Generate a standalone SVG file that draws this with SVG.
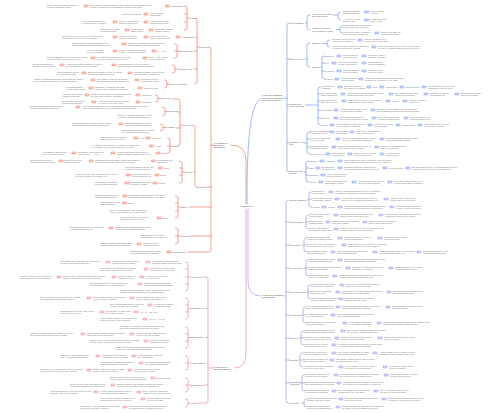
<svg xmlns="http://www.w3.org/2000/svg" width="500" height="413" viewBox="0 0 500 413">
<style>
text{font-family:"Liberation Sans",Arial,sans-serif}
.t{font-size:2.2px;fill:#707070}
.n{font-size:2.2px;fill:#505050}
.m{font-size:2.3px;fill:#404040}
.c{font-size:2.5px;fill:#404040}
.r,.b,.p,.k{fill:none;stroke-width:.7;stroke-linecap:round}
.r{stroke:#f47a68}.b{stroke:#7c9cf6}.p{stroke:#a994f2}.k{stroke:#f28c9c}
</style>
<defs>
<g id="pr"><rect x="-2.3" y="-1.1" width="4.6" height="2.2" rx="1.1" fill="#f9b3a7" stroke="#f2705d" stroke-width=".4"/><path d="M-1.3,0H1.3M.5,-.6L1.3,0 .5,.6" stroke="#fff" stroke-width=".35" fill="none"/></g>
<g id="pb"><rect x="-2.3" y="-1.1" width="4.6" height="2.2" rx="1.1" fill="#b3c6fb" stroke="#6f90f4" stroke-width=".4"/><path d="M-1.3,0H1.3M.5,-.6L1.3,0 .5,.6" stroke="#fff" stroke-width=".35" fill="none"/></g>
<g id="pp"><rect x="-2.3" y="-1.1" width="4.6" height="2.2" rx="1.1" fill="#cdbff8" stroke="#9b84ee" stroke-width=".4"/><path d="M-1.3,0H1.3M.5,-.6L1.3,0 .5,.6" stroke="#fff" stroke-width=".35" fill="none"/></g>
<g id="pk"><rect x="-2.3" y="-1.1" width="4.6" height="2.2" rx="1.1" fill="#f8bcc5" stroke="#ee7d8f" stroke-width=".4"/><path d="M-1.3,0H1.3M.5,-.6L1.3,0 .5,.6" stroke="#fff" stroke-width=".35" fill="none"/></g>
</defs>
<rect width="500" height="413" fill="#fff"/>

<g id="connectors">
<path class="r" d="M246,204V160Q246,145 231,145"/>
<path class="b" d="M247,204C247,150 249,104 260.5,99"/>
<path class="k" d="M246,209V353Q246,368 235,368"/>
<path class="p" d="M248,209V281Q248,296 260.5,296"/>
<path class="r" d="M208.5,47Q211,47 211,49V250Q211,252 208.5,252H188M207,187H211M189,207H211M190,236H211M211,145H213.5"/>
<path class="r" d="M194.5,18Q197,18 197,20V82Q197,84 194.5,84M196,37H197M194.5,51H197M194.5,69H197M197,47H198.5"/>
<path class="r" d="M184.5,6Q187,6 187,8V28Q187,30 184.5,30M184.5,14H187M184.5,22H187M187,18H189.5"/>
<path class="r" d="M174.5,44Q177,44 177,46V56Q177,58 174.5,58M174.5,51H179.5"/>
<path class="r" d="M172.5,65Q175,65 175,67V71Q175,73 172.5,73M175,69H179.5"/>
<path class="r" d="M164.5,80Q167,80 167,82V86Q167,88 164.5,88M167,84H169.5"/>
<path class="r" d="M155.5,95Q158,95 158,97V100Q158,102 155.5,102M158,98.5H160.5"/>
<path class="r" d="M162.5,107Q165,107 165,109V114Q165,116 162.5,116M165,111.5H166.5"/>
<path class="r" d="M160.5,124Q163,124 163,126V129Q163,131 160.5,131M163,127.5H165.5"/>
<path class="r" d="M167.5,138Q170,138 170,140V151Q170,153 167.5,153M167.5,146H172"/>
<path class="r" d="M172,99H177.5Q180,99 180,101V144Q180,146 177.5,146M177.5,112H180M176,128H180M180,125H182.5"/>
<path class="r" d="M179.5,161Q182,161 182,163V181Q182,183 179.5,183M179.5,168H182M179.5,175H182M182,172H184.5"/>
<path class="r" d="M191.5,125H192.5Q195,125 195,127V185Q195,187 196.5,187M194,172H195"/>
<path class="r" d="M175.5,196Q178,196 178,198V216Q178,218 175.5,218M175.5,203H178M175.5,211H178M178,207H180.5"/>
<path class="r" d="M175.5,228Q178,228 178,230V242Q178,244 175.5,244M175.5,236H180.5"/>
<path class="k" d="M185.5,262Q188,262 188,264V289Q188,291 185.5,291M185.5,269H188M185.5,277H190.5M185.5,284H188"/>
<path class="k" d="M185.5,298Q188,298 188,300V317Q188,319 185.5,319M185.5,305H188M185.5,312H188M188,308.5H190.5"/>
<path class="k" d="M185.5,327Q188,327 188,329V346Q188,348 185.5,348M185.5,334H188M185.5,341H188M188,337.5H190.5"/>
<path class="k" d="M185.5,356Q188,356 188,358V368Q188,370 185.5,370M185.5,363H190.5"/>
<path class="k" d="M185.5,378Q188,378 188,380V390Q188,392 185.5,392M185.5,385H190.5"/>
<path class="k" d="M185.5,399Q188,399 188,401V405Q188,407 185.5,407M188,403H190.5"/>
<path class="k" d="M203,277H205.5Q208,277 208,279V401Q208,403 205.5,403H198M205.5,308.5H208M205.5,337.5H208M207,363H208M204.5,385H208M208,368H213.5"/>
<path class="b" d="M289.5,23Q287,23 287,25V170Q287,172 289.5,172M287,59H289.5M287,105H289M287,143H289M284,98H287"/>
<path class="b" d="M309.5,15Q307,15 307,17V28Q307,30 309.5,30M305.5,23H307"/>
<path class="b" d="M340.5,12Q338,12 338,14V18Q338,20 340.5,20M333.5,15H338"/>
<path class="b" d="M342.5,26Q340,26 340,28V31Q340,33 342.5,33M336.5,29.5H340"/>
<path class="b" d="M309.5,43Q307,43 307,45V65Q307,67 309.5,67M305,59H307"/>
<path class="b" d="M329.5,40Q327,40 327,42V45Q327,47 329.5,47M322.5,43.5H327"/>
<path class="b" d="M324.5,56Q322,56 322,58V77Q322,79 324.5,79M322,63H324.5M322,71H324.5M320.5,67H322"/>
<path class="b" d="M320.5,87Q318,87 318,89V123Q318,125 320.5,125M318,94H320.5M318,101H320.5M318,110H320.5M318,118H320.5M305.5,105H318"/>
<path class="b" d="M309.5,132Q307,132 307,134V152Q307,154 309.5,154M307,139H309.5M307,147H309.5M303.5,143H307"/>
<path class="b" d="M308.5,161Q306,161 306,163V180Q306,182 308.5,182M306,168H308.5M306,175H308.5M304.5,172H306"/>
<path class="p" d="M288.5,200Q286,200 286,202V401Q286,403 288.5,403M286,222H289.5M286,245H289.5M286,268H289.5M286,292H289.5M286,315H289.5M286,338H289.5M286,360H289.5M286,383H289.5M284.5,296H286"/>
<path class="p" d="M311.5,192Q309,192 309,194V205Q309,207 311.5,207M309,199H311.5M307.5,200H309"/>
<path class="p" d="M308.5,215Q306,215 306,217V227Q306,229 308.5,229M305,222H308.5"/>
<path class="p" d="M306.5,238Q304,238 304,240V250Q304,252 306.5,252M302.5,245H306.5"/>
<path class="p" d="M308.5,260Q306,260 306,262V274Q306,276 308.5,276M304.5,268H308.5"/>
<path class="p" d="M310.5,285Q308,285 308,287V297Q308,299 310.5,299M307,292H310.5"/>
<path class="p" d="M305.5,307Q303,307 303,309V321Q303,323 305.5,323M302,315H305.5"/>
<path class="p" d="M303.5,331Q301,331 301,333V343Q301,345 303.5,345M299.5,338H303.5"/>
<path class="p" d="M302.5,353Q300,353 300,355V365Q300,367 302.5,367M298.5,360H302.5"/>
<path class="p" d="M304.5,375Q302,375 302,377V389Q302,391 304.5,391M300.5,383H304.5"/>
<path class="p" d="M306.5,399Q304,399 304,401V405Q304,407 306.5,407M301.5,403H304"/>
</g>

<g id="center"><text class="c" x="247" y="207" text-anchor="middle">Lesson 1-5</text></g>
<g id="l1-a"><text class="m" x="214" y="143.6">1. Transfer of<tspan x="214" dy="2.4">Electrical</tspan><tspan x="214" dy="2.4">Conditions</tspan></text></g>
<g id="l1-b"><text class="m" x="262" y="96.4">1. Energy Transfers<tspan x="262" dy="2.4">from Power Stations</tspan><tspan x="262" dy="2.4">and Stored Energy</tspan></text></g>
<g id="l1-c"><text class="m" x="214" y="367.7">2. Sources of<tspan x="214" dy="2.4">Electrical Energy</tspan></text></g>
<g id="l1-d"><text class="m" x="262" y="295.7">2. Sources of Energy<tspan x="262" dy="2.4">for Electricity</tspan></text></g>

<g id="a-nodes">
<text class="n" x="199" y="47.8">Overview</text>
<text class="n" x="190" y="18.8">Types</text>
<text class="n" x="171" y="6.8">Renewables</text>
<text class="n" x="182" y="37.8">Heat transfer</text>
<text class="n" x="180" y="51.8">Electric power</text>
<text class="n" x="180" y="69.8">Using energy</text>
<text class="n" x="170" y="84.8">Uses of electricity</text>
<text class="n" x="161" y="99.3">Heat flow</text>
<text class="n" x="167" y="112.3">Resources</text>
<text class="n" x="166" y="128.3">Symbols</text>
<text class="n" x="172.5" y="146.8">Units</text>
<text class="n" x="183" y="125.8">Current</text>
<text class="n" x="185" y="172.8">Circuits</text>
<text class="n" x="197" y="187.8">Electricity</text>
<text class="n" x="181" y="207.8">Safety</text>
<text class="n" x="181" y="236.8">Devices</text>
<text class="n" x="172.5" y="252.8">Practical work</text>
</g>

<g id="a-rows">
<g id="a1"><text class="t" x="47" y="5.7">Some energy resources can be<tspan x="47" dy="2.4">replaced as fast as used</tspan></text><use href="#pr" x="86" y="6"/><text class="t" x="90" y="5.7">Renewable resources include wind, waves, tides, sunlight, hydro<tspan x="90" dy="2.4">and they will not run out during the lifetime of the Sun</tspan></text><use href="#pr" x="167.5" y="6"/></g>
<g id="a2"><text class="t" x="122" y="14.8">Biofuels from plants</text><use href="#pr" x="146" y="14"/><text class="t" x="150" y="13.7">Wood, ethanol<tspan x="150" dy="2.4">and biogas</tspan></text></g>
<g id="a3"><text class="t" x="82" y="21.7">Finite resources will run<tspan x="82" dy="2.4">out and can't be replaced</tspan></text><use href="#pr" x="115" y="22"/><text class="t" x="119" y="21.7">Coal, oil and natural<tspan x="119" dy="2.4">gas are fossil fuels</tspan></text><use href="#pr" x="146" y="22"/><text class="t" x="150" y="21.7">Fossil fuels release<tspan x="150" dy="2.4">carbon dioxide gas</tspan></text></g>
<g id="a4"><text class="t" x="100" y="29.7">Nuclear fuel is made<tspan x="100" dy="2.4">of uranium metal</tspan></text><use href="#pr" x="127" y="30"/><text class="t" x="131" y="29.7">Fission gives<tspan x="131" dy="2.4">large energy</tspan></text><use href="#pr" x="151" y="30"/><text class="t" x="155" y="29.7">Radioactive waste<tspan x="155" dy="2.4">must be stored</tspan></text></g>
<g id="a5"><text class="t" x="62" y="36.7">Thermal energy stores are filled when fuel<tspan x="62" dy="2.4">burns in the boiler of a power station</tspan></text><use href="#pr" x="115" y="37"/><text class="t" x="119" y="36.7">Water is heated to<tspan x="119" dy="2.4">produce hot steam</tspan></text><use href="#pr" x="146" y="37"/><text class="t" x="150" y="36.7">Steam drives the<tspan x="150" dy="2.4">turbine blades round</tspan></text><use href="#pr" x="178" y="37"/></g>
<g id="a6"><text class="t" x="72" y="43.7">Some energy is always wasted to the<tspan x="72" dy="2.4">surroundings as heat and sound energy</tspan></text><use href="#pr" x="124" y="44"/><text class="t" x="128" y="43.7">Efficiency compares the useful energy<tspan x="128" dy="2.4">output with the total energy input</tspan></text></g>
<g id="a7"><text class="t" x="87" y="50.7">Power is the rate<tspan x="87" dy="2.4">of energy transfer</tspan></text><use href="#pr" x="115" y="51"/><text class="t" x="119" y="50.7">Power is measured in watts<tspan x="119" dy="2.4">1 watt = 1 joule per second</tspan></text><use href="#pr" x="154" y="51"/><text class="t" x="158" y="51.8">P = E / t</text></g>
<g id="a8"><text class="t" x="47" y="57.7">Energy transferred depends on the power<tspan x="47" dy="2.4">of an appliance and the time it is on</tspan></text><use href="#pr" x="93" y="58"/><text class="t" x="97" y="57.7">Kilowatt hours measure the energy<tspan x="97" dy="2.4">used by appliances in the home</tspan></text><use href="#pr" x="145" y="58"/><text class="t" x="149" y="57.7">Cost = units x price<tspan x="149" dy="2.4">per kilowatt hour</tspan></text></g>
<g id="a9"><text class="t" x="33" y="64.7">Electrical appliances<tspan x="33" dy="2.4">transfer energy usefully</tspan></text><use href="#pr" x="62" y="65"/><text class="t" x="66" y="64.7">Kettles and heaters transfer energy to<tspan x="66" dy="2.4">the thermal energy store of water</tspan></text><use href="#pr" x="114" y="65"/><text class="t" x="118" y="64.7">Motors transfer energy to kinetic<tspan x="118" dy="2.4">stores in fans and washing machines</tspan></text></g>
<g id="a10"><text class="t" x="57" y="72.7">Lamps transfer energy<tspan x="57" dy="2.4">by light and heating</tspan></text><use href="#pr" x="84" y="73"/><text class="t" x="88" y="72.7">Speakers transfer energy by sound<tspan x="88" dy="2.4">waves travelling through air</tspan></text><use href="#pr" x="130" y="73"/><text class="t" x="134" y="72.7">Chargers transfer energy to the<tspan x="134" dy="2.4">chemical store of batteries</tspan></text></g>
<g id="a11"><text class="t" x="33" y="79.7">A Sankey diagram shows the useful and the wasted<tspan x="33" dy="2.4">energy transfers as arrows of different widths</tspan></text><use href="#pr" x="93" y="80"/><text class="t" x="97" y="79.7">The width of each arrow shows<tspan x="97" dy="2.4">the amount of energy transferred</tspan></text><use href="#pr" x="137" y="80"/><text class="t" x="141" y="79.7">Total input energy<tspan x="141" dy="2.4">equals total output</tspan></text></g>
<g id="a12"><text class="t" x="66" y="87.7">Reducing wasted<tspan x="66" dy="2.4">energy saves money</tspan></text><use href="#pr" x="91" y="88"/><text class="t" x="95" y="87.7">Insulation, lubrication and LED<tspan x="95" dy="2.4">lamps reduce unwanted transfers</tspan></text><use href="#pr" x="140" y="88"/><text class="t" x="144" y="88.8">Saving energy</text></g>
<g id="a13"><text class="t" x="63" y="94.7">Thermal conductors<tspan x="63" dy="2.4">transfer heat fast</tspan></text><use href="#pr" x="87" y="95"/><text class="t" x="91" y="94.7">Metals are good thermal conductors while<tspan x="91" dy="2.4">air, wool and foam are insulators</tspan></text><use href="#pr" x="138" y="95"/><text class="t" x="142" y="95.8">Insulators</text></g>
<g id="a14"><text class="t" x="62" y="101.7">Conduction, convection<tspan x="62" dy="2.4">and thermal radiation</tspan></text><use href="#pr" x="94" y="102"/><text class="t" x="98" y="101.7">Heat moves from a hotter object<tspan x="98" dy="2.4">to a cooler one until equal</tspan></text><use href="#pr" x="138" y="102"/><text class="t" x="142" y="102.8">Radiation</text></g>
<g id="a15"><text class="t" x="30" y="106.7">Electric current is a flow of charge<tspan x="30" dy="2.4">around a complete circuit loop</tspan></text><use href="#pr" x="78" y="107"/><text class="t" x="83" y="106.7">Current is measured in amperes using an ammeter placed in series<tspan x="83" dy="2.4">and it is the same at every point around a series circuit</tspan></text></g>
<g id="a16"><text class="t" x="118" y="115.7">Energy resources are used to make<tspan x="118" dy="2.4">electricity in large power stations</tspan></text></g>
<g id="a17"><text class="t" x="72" y="123.7">Components are joined by wires to make<tspan x="72" dy="2.4">circuits that can be drawn as diagrams</tspan></text><use href="#pr" x="121" y="124"/><text class="t" x="125" y="123.7">Circuit symbols are used to<tspan x="125" dy="2.4">draw clear circuit diagrams</tspan></text></g>
<g id="a18"><text class="t" x="122" y="130.7">Switches open and close a circuit<tspan x="122" dy="2.4">to control the flow of current</tspan></text></g>
<g id="a19"><text class="t" x="100" y="137.7">Potential difference pushes<tspan x="100" dy="2.4">charge around the circuit</tspan></text><use href="#pr" x="136" y="138"/><text class="t" x="139.5" y="138.8">Volts</text><use href="#pr" x="148" y="138"/><text class="t" x="151.5" y="138.8">Voltmeter</text></g>
<g id="a20"><text class="t" x="92" y="145.7">A voltmeter is connected in parallel across a part<tspan x="92" dy="2.4">to measure the potential difference in volts</tspan></text><use href="#pr" x="151.5" y="146"/><text class="t" x="155.5" y="146.8">Amps</text></g>
<g id="a21"><text class="t" x="43" y="152.7">Resistance opposes the<tspan x="43" dy="2.4">flow of electric current</tspan></text><use href="#pr" x="74" y="153"/><text class="t" x="78" y="152.7">Resistance is measured in<tspan x="78" dy="2.4">ohms using V = I x R</tspan></text><use href="#pr" x="113" y="153"/><text class="t" x="117" y="152.7">Longer and thinner wires have a<tspan x="117" dy="2.4">higher resistance than short ones</tspan></text><use href="#pr" x="158" y="153"/><text class="t" x="161" y="153.8">Ohms</text></g>
<g id="a22"><text class="t" x="30" y="160.7">Conductors let current<tspan x="30" dy="2.4">pass through them easily</tspan></text><use href="#pr" x="61" y="161"/><text class="t" x="64" y="160.7">Copper, silver and<tspan x="64" dy="2.4">graphite conduct</tspan></text><use href="#pr" x="91" y="161"/><text class="t" x="95" y="160.7">Insulators such as plastic, rubber and glass do<tspan x="95" dy="2.4">not let current pass, so they keep us safe</tspan></text><use href="#pr" x="153.5" y="161"/><text class="t" x="157" y="160.7">Conductors and<tspan x="157" dy="2.4">insulators</tspan></text></g>
<g id="a23"><text class="t" x="125" y="167.7">Cells and batteries supply the<tspan x="125" dy="2.4">energy to push the current</tspan></text><use href="#pr" x="160.5" y="168"/><text class="t" x="164" y="168.8">Cells</text></g>
<g id="a24"><text class="t" x="75" y="174.7">In a series circuit the components are joined<tspan x="75" dy="2.4">one after another in a single loop</tspan></text><use href="#pr" x="128.5" y="175"/><text class="t" x="132" y="174.7">If one lamp breaks<tspan x="132" dy="2.4">all the lamps go out</tspan></text><use href="#pr" x="157" y="175"/><text class="t" x="160" y="175.8">Series</text></g>
<g id="a25"><text class="t" x="95" y="182.7">In a parallel circuit there<tspan x="95" dy="2.4">are separate branches</tspan></text><use href="#pr" x="127" y="183"/><text class="t" x="130" y="182.7">Each branch gets the<tspan x="130" dy="2.4">full supply voltage</tspan></text><use href="#pr" x="155" y="183"/><text class="t" x="158" y="183.8">Parallel</text></g>
<g id="a26"><text class="t" x="95" y="195.7">Safety in the home with<tspan x="95" dy="2.4">mains electricity supply</tspan></text><use href="#pr" x="125" y="196"/><text class="t" x="128.5" y="195.7">Plugs have a fuse and an earth wire to<tspan x="128.5" dy="2.4">stop appliances becoming live if faulty</tspan></text></g>
<g id="a27"><text class="t" x="100" y="202.7">Never touch sockets<tspan x="100" dy="2.4">with wet hands</tspan></text><use href="#pr" x="124.5" y="203"/><text class="t" x="128" y="203.8">Water</text></g>
<g id="a28"><text class="t" x="110" y="210.7">The live wire is brown, the neutral wire<tspan x="110" dy="2.4">is blue and earth is green and yellow</tspan></text></g>
<g id="a29"><text class="t" x="120" y="217.7">Fuses melt if the current is too<tspan x="120" dy="2.4">high and break the circuit</tspan></text><use href="#pr" x="159" y="218"/><text class="t" x="162" y="218.8">Fuses</text></g>
<g id="a30"><text class="t" x="70" y="227.7">Electrical energy can be dangerous<tspan x="70" dy="2.4">if it is not used correctly</tspan></text><use href="#pr" x="111" y="228"/><text class="t" x="115" y="227.7">Circuit breakers switch off the supply<tspan x="115" dy="2.4">quickly when a fault is detected</tspan></text></g>
<g id="a31"><text class="t" x="140" y="235.7">Residual current devices<tspan x="140" dy="2.4">protect people from shocks</tspan></text></g>
<g id="a32"><text class="t" x="100" y="243.7">Double insulated appliances have<tspan x="100" dy="2.4">a plastic case and no earth wire</tspan></text><use href="#pr" x="139" y="244"/><text class="t" x="143" y="243.7">Hair dryers and<tspan x="143" dy="2.4">vacuum cleaners</tspan></text></g>
<g id="a33"><text class="t" x="130" y="251.7">Practical investigations measure<tspan x="130" dy="2.4">current and voltage in circuits</tspan></text><use href="#pr" x="169" y="252"/></g>
</g>

<g id="c-nodes">
<text class="n" x="191" y="277.8">Generators</text>
<text class="n" x="191" y="309.3">Transformers</text>
<text class="n" x="191" y="338.3">National grid</text>
<text class="n" x="191" y="363.8">Power stations</text>
<text class="n" x="191" y="385.8">Environment</text>
<text class="n" x="191" y="403.8">Costs</text>
</g>
<g id="c-rows">
<g id="c1"><text class="t" x="60" y="261.7">Generators use magnets and coils of wire<tspan x="60" dy="2.4">to induce a potential difference</tspan></text><use href="#pk" x="108" y="262"/><text class="t" x="112" y="261.7">Turning the coil faster gives<tspan x="112" dy="2.4">a larger induced voltage</tspan></text><use href="#pk" x="148" y="262"/><text class="t" x="152" y="261.7">Alternating current changes<tspan x="152" dy="2.4">direction many times a second</tspan></text></g>
<g id="c2"><text class="t" x="100" y="268.7">The national grid transmits electricity<tspan x="100" dy="2.4">from power stations to our homes</tspan></text><use href="#pk" x="146" y="269"/><text class="t" x="150" y="268.7">Mains supply is 230 volts<tspan x="150" dy="2.4">at a frequency of 50 hertz</tspan></text></g>
<g id="c3"><text class="t" x="20" y="276.7">Energy resources can be used to<tspan x="20" dy="2.4">drive turbines in power stations</tspan></text><use href="#pk" x="59" y="277"/><text class="t" x="63" y="276.7">Steam, wind or moving water turns a turbine<tspan x="63" dy="2.4">which is connected to a large generator</tspan></text><use href="#pk" x="114" y="277"/><text class="t" x="118" y="276.7">The generator coil<tspan x="118" dy="2.4">rotates in a field</tspan></text><use href="#pk" x="142" y="277"/><text class="t" x="146" y="276.7">A current is induced in<tspan x="146" dy="2.4">the coil of wire</tspan></text></g>
<g id="c4"><text class="t" x="90" y="283.7">Direct current flows in one direction only<tspan x="90" dy="2.4">and is supplied by cells and batteries</tspan></text><use href="#pk" x="140" y="284"/><text class="t" x="144" y="283.7">Oscilloscope traces show ac<tspan x="144" dy="2.4">and dc as different waveforms</tspan></text></g>
<g id="c5"><text class="t" x="120" y="290.7">Electricity is a secondary energy source made from<tspan x="120" dy="2.4">primary resources such as coal, gas and wind</tspan></text></g>
<g id="c6"><text class="t" x="40" y="297.7">Step-up transformers increase the voltage<tspan x="40" dy="2.4">for transmission through the cables</tspan></text><use href="#pk" x="89" y="298"/><text class="t" x="93" y="297.7">High voltage means a low current<tspan x="93" dy="2.4">so less energy is wasted</tspan></text><use href="#pk" x="132" y="298"/><text class="t" x="136" y="297.7">Less heating of the cables and<tspan x="136" dy="2.4">a more efficient grid system</tspan></text></g>
<g id="c7"><text class="t" x="110" y="304.7">Step-down transformers reduce the<tspan x="110" dy="2.4">voltage for safe use in homes</tspan></text><use href="#pk" x="150" y="305"/><text class="t" x="154" y="304.7">Pylons carry cables<tspan x="154" dy="2.4">across the country</tspan></text></g>
<g id="c8"><text class="t" x="60" y="311.7">Transformers have two coils of wire<tspan x="60" dy="2.4">wound on an iron core</tspan></text><use href="#pk" x="102" y="312"/><text class="t" x="106" y="311.7">The number of turns sets<tspan x="106" dy="2.4">the output voltage</tspan></text><use href="#pk" x="136" y="312"/><text class="t" x="140" y="312.8">Vp / Vs = Np / Ns</text></g>
<g id="c9"><text class="t" x="100" y="318.7">Power in the primary coil equals power<tspan x="100" dy="2.4">in the secondary coil if efficient</tspan></text><use href="#pk" x="145" y="319"/><text class="t" x="149" y="319.8">Vp x Ip = Vs x Is</text></g>
<g id="c10"><text class="t" x="120" y="326.7">Demand for electricity changes during the day<tspan x="120" dy="2.4">and power stations must respond quickly</tspan></text></g>
<g id="c11"><text class="t" x="30" y="333.7">Gas power stations can be started quickly to<tspan x="30" dy="2.4">meet sudden increases in the demand</tspan></text><use href="#pk" x="83" y="334"/><text class="t" x="87" y="333.7">Nuclear power stations supply a steady<tspan x="87" dy="2.4">base load all day and night</tspan></text><use href="#pk" x="132" y="334"/><text class="t" x="136" y="333.7">Pumped storage stations store<tspan x="136" dy="2.4">energy for peak demand</tspan></text></g>
<g id="c12"><text class="t" x="90" y="340.7">Engineers predict demand using weather forecasts<tspan x="90" dy="2.4">and the times of popular television events</tspan></text><use href="#pk" x="146" y="341"/><text class="t" x="150" y="340.7">Supply must always<tspan x="150" dy="2.4">match the demand</tspan></text></g>
<g id="c13"><text class="t" x="115" y="347.7">Smart meters help homes and businesses track the<tspan x="115" dy="2.4">energy they use and reduce their bills</tspan></text></g>
<g id="c14"><text class="t" x="60" y="355.7">Fossil fuel power stations burn<tspan x="60" dy="2.4">coal, oil or gas to heat water</tspan></text><use href="#pk" x="98" y="356"/><text class="t" x="102" y="355.7">The steam turns a turbine<tspan x="102" dy="2.4">connected to the generator</tspan></text><use href="#pk" x="134" y="356"/><text class="t" x="138" y="355.7">Cooling towers condense<tspan x="138" dy="2.4">the used steam</tspan></text></g>
<g id="c15"><text class="t" x="100" y="362.7">Nuclear power stations use fission<tspan x="100" dy="2.4">to heat the water in a reactor</tspan></text><use href="#pk" x="141" y="363"/><text class="t" x="145" y="362.7">No carbon dioxide is made<tspan x="145" dy="2.4">but waste is radioactive</tspan></text></g>
<g id="c16"><text class="t" x="40" y="369.7">Combined cycle gas turbines are much more<tspan x="40" dy="2.4">efficient than older coal power stations</tspan></text><use href="#pk" x="89" y="370"/><text class="t" x="93" y="369.7">Waste heat can be used to warm<tspan x="93" dy="2.4">nearby homes and offices</tspan></text><use href="#pk" x="130" y="370"/><text class="t" x="134" y="369.7">Combined heat and power<tspan x="134" dy="2.4">schemes save energy</tspan></text></g>
<g id="c17"><text class="t" x="110" y="377.7">Burning fossil fuels releases carbon<tspan x="110" dy="2.4">dioxide which causes global warming</tspan></text><use href="#pk" x="153" y="378"/><text class="t" x="156" y="378.8">Climate change</text></g>
<g id="c18"><text class="t" x="70" y="384.7">Sulfur dioxide from coal causes acid<tspan x="70" dy="2.4">rain which damages trees and lakes</tspan></text><use href="#pk" x="113" y="385"/><text class="t" x="117" y="384.7">Carbon capture and storage can trap the gases<tspan x="117" dy="2.4">produced before they reach the atmosphere</tspan></text></g>
<g id="c19"><text class="t" x="50" y="391.7">Wind farms can be noisy and some people<tspan x="50" dy="2.4">think they spoil the landscape</tspan></text><use href="#pk" x="96" y="392"/><text class="t" x="100" y="391.7">Hydroelectric dams flood valleys<tspan x="100" dy="2.4">and destroy natural habitats</tspan></text><use href="#pk" x="139" y="392"/><text class="t" x="143" y="391.7">Every resource has some<tspan x="143" dy="2.4">impact on the environment</tspan></text></g>
<g id="c20"><text class="t" x="100" y="398.7">Set up costs, running costs and fuel<tspan x="100" dy="2.4">costs all affect the price of power</tspan></text><use href="#pk" x="143" y="399"/><text class="t" x="147" y="398.7">Decommissioning costs<tspan x="147" dy="2.4">can be very high</tspan></text></g>
<g id="c21"><text class="t" x="80" y="406.7">Renewable resources have no fuel costs<tspan x="80" dy="2.4">but can be unreliable at times</tspan></text><use href="#pk" x="125" y="407"/><text class="t" x="129" y="406.7">Wind and solar depend on the weather<tspan x="129" dy="2.4">so backup power is always needed</tspan></text></g>
</g>

<g id="b-nodes">
<text class="n" x="290" y="23.8">Fuel transfers</text>
<text class="n" x="312" y="14.7">Main energy sources<tspan x="312" dy="2.4">since the 1800s</tspan></text>
<text class="n" x="312" y="29.2">Fossil fuels formed<tspan x="312" dy="2.4">over millions of years</tspan></text>
<text class="n" x="290" y="59.8">Stored energy</text>
<text class="n" x="312" y="44.3">Batteries</text>
<text class="n" x="312" y="67.8">Storage</text>
<text class="n" x="289.5" y="104.7">Transfers at<tspan x="289.5" dy="2.4">Power Stations</tspan></text>
<text class="n" x="289.5" y="142.7">Changes over<tspan x="289.5" dy="2.4">time</tspan></text>
<text class="n" x="289.5" y="171.7">Transport and<tspan x="289.5" dy="2.4">storage</tspan></text>
</g>
<g id="b-rows">
<g id="b1"><text class="t" x="343" y="11.7">Earth's crust has<tspan x="343" dy="2.4">fossil fuel stores</tspan></text><use href="#pb" x="366.5" y="12"/><text class="t" x="370" y="11.7">Coal beds and<tspan x="370" dy="2.4">oil wells</tspan></text></g>
<g id="b2"><text class="t" x="343" y="19.7">All energy comes<tspan x="343" dy="2.4">from the Sun</tspan></text><use href="#pb" x="366.5" y="20"/><text class="t" x="370" y="19.7">Plants stored the<tspan x="370" dy="2.4">Sun's energy</tspan></text></g>
<g id="b3"><text class="t" x="343" y="25.7">Dead plants and animals were<tspan x="343" dy="2.4">buried under layers of mud</tspan></text></g>
<g id="b4"><text class="t" x="343" y="32.7">Heat and pressure changed<tspan x="343" dy="2.4">them into coal, oil and gas</tspan></text><use href="#pb" x="377" y="33"/><text class="t" x="381" y="32.7">These fuels take too<tspan x="381" dy="2.4">long to form again</tspan></text></g>
<g id="b5"><text class="t" x="332" y="39.7">Chemical energy stores<tspan x="332" dy="2.4">in cells are recharged</tspan></text><use href="#pb" x="360" y="40"/><text class="t" x="364" y="39.7">Lithium ion batteries in<tspan x="364" dy="2.4">phones and electric cars</tspan></text></g>
<g id="b6"><text class="t" x="332" y="46.7">Hydrogen can be produced with spare<tspan x="332" dy="2.4">electricity and stored in tanks</tspan></text><use href="#pb" x="374" y="47"/><text class="t" x="378" y="46.7">Stored hydrogen can be used in fuel cells to<tspan x="378" dy="2.4">produce electricity again when it is needed</tspan></text></g>
<g id="b7"><text class="t" x="325" y="56.8">Batteries</text><use href="#pb" x="339" y="56"/><text class="t" x="343" y="55.7">Most storage is<tspan x="343" dy="2.4">short term only</tspan></text><use href="#pb" x="364" y="56"/><text class="t" x="368" y="55.7">Grid scale battery<tspan x="368" dy="2.4">farms are growing</tspan></text></g>
<g id="b8"><text class="t" x="325" y="63.8">Fuel</text><use href="#pb" x="334" y="63"/><text class="t" x="338" y="62.7">Fuel stores chemical<tspan x="338" dy="2.4">energy until burned</tspan></text><use href="#pb" x="364" y="63"/><text class="t" x="368" y="62.7">Coal stockpiles<tspan x="368" dy="2.4">at power stations</tspan></text></g>
<g id="b9"><text class="t" x="325" y="71.8">Hydrogen</text><use href="#pb" x="339" y="71"/><text class="t" x="343" y="70.7">Made by passing<tspan x="343" dy="2.4">current in water</tspan></text><use href="#pb" x="364" y="71"/><text class="t" x="368" y="70.7">Hydrogen cars<tspan x="368" dy="2.4">emit only water</tspan></text></g>
<g id="b10"><text class="t" x="325" y="79.8">Pumped</text><use href="#pb" x="337" y="79"/><text class="t" x="341" y="78.7">Water is pumped<tspan x="341" dy="2.4">uphill at night</tspan></text><use href="#pb" x="361" y="79"/><text class="t" x="365" y="78.7">Water is released through turbines when<tspan x="365" dy="2.4">demand for electricity is very high</tspan></text></g>
<g id="b11"><text class="t" x="321" y="86.7">Conditions for<tspan x="321" dy="2.4">electricity</tspan></text><use href="#pb" x="340" y="87"/><text class="t" x="344" y="86.7">Electricity must be<tspan x="344" dy="2.4">generated on demand</tspan></text><use href="#pb" x="369" y="87"/><text class="t" x="373" y="87.8">Coal</text><use href="#pb" x="382" y="87"/><text class="t" x="386" y="87.8">Gas turbine</text><use href="#pb" x="402" y="87"/><text class="t" x="406" y="87.8">Steam turbine</text><use href="#pb" x="424" y="87"/><text class="t" x="428" y="86.7">The generator produces an<tspan x="428" dy="2.4">alternating current output</tspan></text></g>
<g id="b12"><text class="t" x="321" y="93.7">The boiler heats<tspan x="321" dy="2.4">water into steam</tspan></text><use href="#pb" x="343" y="94"/><text class="t" x="347" y="93.7">High pressure steam turns the turbine<tspan x="347" dy="2.4">blades which spin the shaft</tspan></text><use href="#pb" x="391" y="94"/><text class="t" x="395" y="93.7">The shaft turns the coils<tspan x="395" dy="2.4">inside the generator</tspan></text><use href="#pb" x="426" y="94"/><text class="t" x="430" y="93.7">Electricity flows out<tspan x="430" dy="2.4">to transformers</tspan></text><use href="#pb" x="457" y="94"/><text class="t" x="461" y="93.7">Steam is condensed<tspan x="461" dy="2.4">and reused again</tspan></text></g>
<g id="b13"><text class="t" x="321" y="100.7">Cooling water is<tspan x="321" dy="2.4">taken from rivers</tspan></text><use href="#pb" x="344" y="101"/><text class="t" x="348" y="100.7">Warm water returned to rivers can<tspan x="348" dy="2.4">harm fish and other wildlife</tspan></text><use href="#pb" x="388" y="101"/><text class="t" x="392" y="101.8">Wildlife</text><use href="#pb" x="405" y="101"/><text class="t" x="409" y="100.7">Thermal pollution<tspan x="409" dy="2.4">of the river</tspan></text></g>
<g id="b14"><text class="t" x="321" y="110.8">Generators</text><use href="#pb" x="336" y="110"/><text class="t" x="340" y="109.7">A magnet spins inside coils<tspan x="340" dy="2.4">of copper wire to make</tspan></text><use href="#pb" x="373" y="110"/><text class="t" x="377" y="109.7">Because of the rotation, the current in the<tspan x="377" dy="2.4">wires changes direction fifty times a second</tspan></text></g>
<g id="b15"><text class="t" x="321" y="118.8">Efficiency</text><use href="#pb" x="336" y="118"/><text class="t" x="340" y="117.7">Only about a third of the<tspan x="340" dy="2.4">fuel energy becomes electric</tspan></text><use href="#pb" x="374" y="118"/><text class="t" x="378" y="117.7">The rest is wasted as<tspan x="378" dy="2.4">heat in cooling towers</tspan></text><use href="#pb" x="406" y="118"/><text class="t" x="410" y="117.7">Improve efficiency by<tspan x="410" dy="2.4">using the waste heat</tspan></text></g>
<g id="b16"><text class="t" x="321" y="125.8">Output</text><use href="#pb" x="332" y="125"/><text class="t" x="336" y="124.7">Power stations output around<tspan x="336" dy="2.4">one thousand megawatts</tspan></text><use href="#pb" x="370" y="125"/><text class="t" x="374" y="124.7">Output is measured<tspan x="374" dy="2.4">in megawatts</tspan></text><use href="#pb" x="398" y="125"/><text class="t" x="402" y="125.8">Higher output</text><use href="#pb" x="420" y="125"/><text class="t" x="424" y="124.7">Many stations are needed<tspan x="424" dy="2.4">for the whole country</tspan></text></g>
<g id="b17"><text class="t" x="310" y="131.7">Energy demand has<tspan x="310" dy="2.4">grown since 1900</tspan></text><use href="#pb" x="332" y="132"/><text class="t" x="336" y="131.7">More homes<tspan x="336" dy="2.4">and devices</tspan></text><use href="#pb" x="352" y="132"/><text class="t" x="356" y="131.7">Add more power stations<tspan x="356" dy="2.4">to the national grid</tspan></text></g>
<g id="b18"><text class="t" x="310" y="138.7">Use of coal has fallen<tspan x="310" dy="2.4">in recent years</tspan></text><use href="#pb" x="338" y="139"/><text class="t" x="342" y="138.7">Old coal power stations are being<tspan x="342" dy="2.4">closed to cut carbon emissions</tspan></text><use href="#pb" x="382" y="139"/><text class="t" x="386" y="138.7">Replaced by gas, wind and solar<tspan x="386" dy="2.4">power across the country</tspan></text></g>
<g id="b19"><text class="t" x="310" y="146.7">Wind and solar use<tspan x="310" dy="2.4">has grown quickly</tspan></text><use href="#pb" x="334" y="147"/><text class="t" x="338" y="146.7">Offshore wind farms now supply a<tspan x="338" dy="2.4">large share of the electricity</tspan></text><use href="#pb" x="377" y="147"/><text class="t" x="381" y="146.7">Costs of renewables have<tspan x="381" dy="2.4">fallen a great deal</tspan></text></g>
<g id="b20"><text class="t" x="310" y="154.8">New resources</text><use href="#pb" x="328" y="154"/><text class="t" x="332" y="153.7">Tidal lagoons<tspan x="332" dy="2.4">are planned</tspan></text><use href="#pb" x="350" y="154"/><text class="t" x="354" y="153.7">Small nuclear reactors<tspan x="354" dy="2.4">may be built soon</tspan></text><use href="#pb" x="382" y="154"/><text class="t" x="386" y="153.7">Research into<tspan x="386" dy="2.4">fusion power</tspan></text></g>
<g id="b21"><text class="t" x="309" y="161.8">Railways</text><use href="#pb" x="322" y="161"/><text class="t" x="326" y="161.8">High time</text><use href="#pb" x="340" y="161"/><text class="t" x="344" y="160.7">Many trains now run on electricity from overhead<tspan x="344" dy="2.4">cables instead of burning diesel fuel in engines</tspan></text></g>
<g id="b22"><text class="t" x="309" y="168.8">Cars</text><use href="#pb" x="318" y="168"/><text class="t" x="322" y="167.7">Electric cars<tspan x="322" dy="2.4">use batteries</tspan></text><use href="#pb" x="340" y="168"/><text class="t" x="344" y="167.7">Charging points are being built in<tspan x="344" dy="2.4">car parks and at motorway services</tspan></text><use href="#pb" x="385" y="168"/><text class="t" x="389" y="168.8">Pros and cons</text><use href="#pb" x="408" y="168"/><text class="t" x="412" y="167.7">Electric cars produce no exhaust gases but the<tspan x="412" dy="2.4">electricity may still come from fossil fuels</tspan></text></g>
<g id="b23"><text class="t" x="309" y="175.8">Charging</text><use href="#pb" x="323" y="175"/><text class="t" x="327" y="174.7">Home chargers take<tspan x="327" dy="2.4">several hours to fill</tspan></text></g>
<g id="b24"><text class="t" x="309" y="182.8">Lorries</text><use href="#pb" x="321" y="182"/><text class="t" x="325" y="181.7">Heavy lorries need very<tspan x="325" dy="2.4">large battery packs</tspan></text><use href="#pb" x="354" y="182"/><text class="t" x="358" y="181.7">Hydrogen fuel cells may be<tspan x="358" dy="2.4">used for lorries instead</tspan></text><use href="#pb" x="390" y="182"/><text class="t" x="394" y="181.7">Refuelling with hydrogen is<tspan x="394" dy="2.4">quicker than battery charging</tspan></text></g>
</g>

<g id="d-nodes">
<text class="n" x="290" y="200.8">Energy transfers</text>
<text class="n" x="290" y="222.8">Wind turbines</text>
<text class="n" x="290" y="245.8">Solar cells</text>
<text class="n" x="290" y="268.8">Hydroelectric</text>
<text class="n" x="290" y="292.8">Tides and waves</text>
<text class="n" x="290" y="315.8">Geothermal</text>
<text class="n" x="290" y="338.8">Biofuels</text>
<text class="n" x="290" y="360.8">Nuclear</text>
<text class="n" x="290" y="382.7">Comparing<tspan x="290" dy="2.4">resources</tspan></text>
<text class="n" x="290" y="403.8">Reliability</text>
</g>
<g id="d-rows">
<g id="d1"><text class="t" x="312" y="191.7">Main uses of<tspan x="312" dy="2.4">electric power</tspan></text><use href="#pp" x="331" y="192"/><text class="t" x="335" y="191.7">Homes, shops and factories all need electricity<tspan x="335" dy="2.4">for lighting, heating and running machines</tspan></text></g>
<g id="d2"><text class="t" x="312" y="198.7">Power ratings shown<tspan x="312" dy="2.4">on appliance labels</tspan></text><use href="#pp" x="337" y="199"/><text class="t" x="341" y="198.7">A 2 kW kettle transfers 2000 joules of<tspan x="341" dy="2.4">energy every second it is switched on</tspan></text><use href="#pp" x="386" y="199"/><text class="t" x="390" y="198.7">Higher power means more<tspan x="390" dy="2.4">energy used each second</tspan></text></g>
<g id="d3"><text class="t" x="312" y="207.8">Heaters</text><use href="#pp" x="324" y="207"/><text class="t" x="328" y="207.8">Kettles</text><use href="#pp" x="340" y="207"/><text class="t" x="344" y="206.7">Heating appliances have the highest power<tspan x="344" dy="2.4">ratings of the appliances in most homes</tspan></text><use href="#pp" x="392" y="207"/><text class="t" x="396" y="206.7">Switch off when not in use<tspan x="396" dy="2.4">to save energy and money</tspan></text></g>
<g id="d4"><text class="t" x="309" y="214.7">Wind turns the blades<tspan x="309" dy="2.4">of a tall turbine</tspan></text><use href="#pp" x="336" y="215"/><text class="t" x="340" y="214.7">The blades turn a generator in the<tspan x="340" dy="2.4">nacelle at the top of the tower</tspan></text><use href="#pp" x="381" y="215"/><text class="t" x="385" y="214.7">Turbines only work when the wind is<tspan x="385" dy="2.4">neither too weak nor too strong</tspan></text></g>
<g id="d5"><text class="t" x="309" y="221.7">Onshore and<tspan x="309" dy="2.4">offshore farms</tspan></text><use href="#pp" x="328" y="222"/><text class="t" x="332" y="221.7">Offshore winds are stronger<tspan x="332" dy="2.4">and more reliable</tspan></text><use href="#pp" x="365" y="222"/><text class="t" x="369" y="221.7">Cables carry the electricity to<tspan x="369" dy="2.4">shore under the sea bed</tspan></text></g>
<g id="d6"><text class="t" x="309" y="228.7">No fuel costs and no<tspan x="309" dy="2.4">greenhouse gases made</tspan></text><use href="#pp" x="336" y="229"/><text class="t" x="340" y="228.7">Some people object to the noise and the look<tspan x="340" dy="2.4">of large turbines in the countryside</tspan></text></g>
<g id="d7"><text class="t" x="307" y="237.7">Solar cells transfer light<tspan x="307" dy="2.4">energy to electrical energy</tspan></text><use href="#pp" x="340" y="238"/><text class="t" x="344" y="237.7">Panels are fitted on roofs or<tspan x="344" dy="2.4">in large solar farms</tspan></text><use href="#pp" x="380" y="238"/><text class="t" x="384" y="237.7">Useful in remote places<tspan x="384" dy="2.4">far from the grid</tspan></text></g>
<g id="d8"><text class="t" x="307" y="244.7">They only work in daylight and<tspan x="307" dy="2.4">give less power when cloudy</tspan></text><use href="#pp" x="344" y="245"/><text class="t" x="348" y="244.7">Solar panels are expensive to make but<tspan x="348" dy="2.4">cost nothing to run once installed</tspan></text></g>
<g id="d9"><text class="t" x="307" y="251.7">Solar heating panels<tspan x="307" dy="2.4">warm water directly</tspan></text><use href="#pp" x="333" y="252"/><text class="t" x="337" y="251.7">Water flows through black pipes<tspan x="337" dy="2.4">that absorb the heat</tspan></text><use href="#pp" x="375" y="252"/><text class="t" x="379" y="251.7">Homes can save money on hot water<tspan x="379" dy="2.4">and heating bills each year</tspan></text><use href="#pp" x="419" y="252"/><text class="t" x="423" y="251.7">Excess power can be sold<tspan x="423" dy="2.4">back to the national grid</tspan></text></g>
<g id="d10"><text class="t" x="309" y="259.7">Water stored behind a dam<tspan x="309" dy="2.4">has gravitational energy</tspan></text><use href="#pp" x="340" y="260"/><text class="t" x="344" y="259.7">Water flows down through pipes and turns<tspan x="344" dy="2.4">turbines at the bottom of the dam</tspan></text></g>
<g id="d11"><text class="t" x="309" y="267.7">Hydroelectric power stations can<tspan x="309" dy="2.4">start up very quickly</tspan></text><use href="#pp" x="348" y="268"/><text class="t" x="352" y="267.7">Good for meeting sudden rises in<tspan x="352" dy="2.4">demand for electricity</tspan></text><use href="#pp" x="391" y="268"/><text class="t" x="395" y="267.7">Building dams is very costly<tspan x="395" dy="2.4">and floods large areas</tspan></text></g>
<g id="d12"><text class="t" x="309" y="275.7">Reliable supply when<tspan x="309" dy="2.4">there is enough rain</tspan></text><use href="#pp" x="335" y="276"/><text class="t" x="339" y="275.7">Most good sites for hydroelectric dams in the<tspan x="339" dy="2.4">country have already been used up</tspan></text></g>
<g id="d13"><text class="t" x="311" y="284.7">Tidal barrages trap water<tspan x="311" dy="2.4">at high tide in estuaries</tspan></text><use href="#pp" x="342" y="285"/><text class="t" x="346" y="284.7">Water is released through turbines<tspan x="346" dy="2.4">as the tide goes out again</tspan></text></g>
<g id="d14"><text class="t" x="311" y="291.7">Tides are predictable<tspan x="311" dy="2.4">twice every day</tspan></text><use href="#pp" x="338" y="292"/><text class="t" x="342" y="291.7">Tidal power is reliable because the Moon<tspan x="342" dy="2.4">causes tides at known times</tspan></text><use href="#pp" x="389" y="292"/><text class="t" x="393" y="291.7">Barrages can harm habitats for<tspan x="393" dy="2.4">wading birds and fish</tspan></text></g>
<g id="d15"><text class="t" x="311" y="298.7">Wave machines bob up and<tspan x="311" dy="2.4">down on the sea surface</tspan></text><use href="#pp" x="341" y="299"/><text class="t" x="345" y="298.7">Waves drive small generators<tspan x="345" dy="2.4">floating near the coast</tspan></text></g>
<g id="d16"><text class="t" x="306" y="306.7">Hot rocks underground heat<tspan x="306" dy="2.4">water pumped down to them</tspan></text><use href="#pp" x="338" y="307"/><text class="t" x="342" y="306.7">Steam returns to the surface and drives<tspan x="342" dy="2.4">turbines to generate electricity</tspan></text><use href="#pp" x="388" y="307"/><text class="t" x="392" y="306.7">Only possible in volcanic areas<tspan x="392" dy="2.4">such as Iceland</tspan></text></g>
<g id="d17"><text class="t" x="306" y="314.7">Reliable and produces<tspan x="306" dy="2.4">very little pollution</tspan></text><use href="#pp" x="333" y="315"/><text class="t" x="337" y="314.7">Can also heat homes directly through<tspan x="337" dy="2.4">pipes carrying hot water</tspan></text></g>
<g id="d18"><text class="t" x="306" y="322.7">Drilling deep wells is expensive<tspan x="306" dy="2.4">and can be difficult</tspan></text><use href="#pp" x="345" y="323"/><text class="t" x="349" y="322.7">Few suitable sites exist<tspan x="349" dy="2.4">in the United Kingdom</tspan></text><use href="#pp" x="379" y="323"/><text class="t" x="383" y="322.7">Ground source heat pumps use the steady heat<tspan x="383" dy="2.4">just below the surface of the ground</tspan></text></g>
<g id="d19"><text class="t" x="304" y="330.7">Plants and animal waste can be<tspan x="304" dy="2.4">burned as fuel in power stations</tspan></text><use href="#pp" x="343" y="331"/><text class="t" x="347" y="330.7">Biofuels are carbon neutral if new crops<tspan x="347" dy="2.4">are grown to replace those used</tspan></text></g>
<g id="d20"><text class="t" x="304" y="337.7">Methane from rotting waste<tspan x="304" dy="2.4">can be collected and burned</tspan></text><use href="#pp" x="337" y="338"/><text class="t" x="341" y="337.7">Landfill sites and farms produce<tspan x="341" dy="2.4">biogas in large amounts</tspan></text><use href="#pp" x="380" y="338"/><text class="t" x="384" y="337.7">Ethanol from sugar cane is used<tspan x="384" dy="2.4">as a fuel in cars</tspan></text></g>
<g id="d21"><text class="t" x="304" y="344.7">Land used for fuel crops<tspan x="304" dy="2.4">cannot grow food crops</tspan></text><use href="#pp" x="334" y="345"/><text class="t" x="338" y="344.7">Forests are sometimes cleared to grow crops<tspan x="338" dy="2.4">for biofuel which destroys habitats</tspan></text></g>
<g id="d22"><text class="t" x="303" y="352.7">Uranium nuclei split in a<tspan x="303" dy="2.4">reactor releasing energy</tspan></text><use href="#pp" x="334" y="353"/><text class="t" x="338" y="352.7">The energy heats water to make<tspan x="338" dy="2.4">steam that drives the turbines</tspan></text><use href="#pp" x="375" y="353"/><text class="t" x="379" y="352.7">A small mass of fuel releases a huge<tspan x="379" dy="2.4">amount of energy compared to coal</tspan></text></g>
<g id="d23"><text class="t" x="303" y="359.7">No greenhouse gases are<tspan x="303" dy="2.4">made during operation</tspan></text><use href="#pp" x="332" y="360"/><text class="t" x="336" y="359.7">Radioactive waste must be stored safely<tspan x="336" dy="2.4">for thousands of years</tspan></text></g>
<g id="d24"><text class="t" x="303" y="366.7">Accidents can release radiation<tspan x="303" dy="2.4">over a very wide area</tspan></text><use href="#pp" x="341" y="367"/><text class="t" x="345" y="366.7">Power stations are very costly to<tspan x="345" dy="2.4">build and to decommission</tspan></text><use href="#pp" x="385" y="367"/><text class="t" x="389" y="366.7">Construction takes many<tspan x="389" dy="2.4">years to complete</tspan></text></g>
<g id="d25"><text class="t" x="305" y="374.7">Renewable resources will<tspan x="305" dy="2.4">not run out in the future</tspan></text><use href="#pp" x="336" y="375"/><text class="t" x="340" y="374.7">Non-renewable resources will eventually<tspan x="340" dy="2.4">run out but supply reliable power</tspan></text><use href="#pp" x="386" y="375"/><text class="t" x="390" y="374.7">Most countries use a mixture<tspan x="390" dy="2.4">of different resources</tspan></text></g>
<g id="d26"><text class="t" x="305" y="382.7">Each resource has advantages<tspan x="305" dy="2.4">and disadvantages to compare</tspan></text><use href="#pp" x="339" y="383"/><text class="t" x="343" y="382.7">Compare the cost, reliability, pollution and<tspan x="343" dy="2.4">the effect on the landscape of each one</tspan></text></g>
<g id="d27"><text class="t" x="305" y="390.7">Governments set targets<tspan x="305" dy="2.4">to cut carbon emissions</tspan></text><use href="#pp" x="334" y="391"/><text class="t" x="338" y="390.7">The UK aims for net zero carbon<tspan x="338" dy="2.4">emissions by the year 2050</tspan></text><use href="#pp" x="376" y="391"/><text class="t" x="380" y="390.7">More renewable power will be<tspan x="380" dy="2.4">needed to reach this target</tspan></text></g>
<g id="d28"><text class="t" x="307" y="398.7">Some resources depend on the<tspan x="307" dy="2.4">weather and time of day</tspan></text><use href="#pp" x="341" y="399"/><text class="t" x="345" y="398.7">Wind and solar output can change<tspan x="345" dy="2.4">from hour to hour</tspan></text><use href="#pp" x="384" y="399"/><text class="t" x="388" y="398.7">Backup power stations must be ready<tspan x="388" dy="2.4">to supply electricity when needed</tspan></text></g>
<g id="d29"><text class="t" x="307" y="406.7">Fossil fuels and nuclear<tspan x="307" dy="2.4">provide a constant supply</tspan></text><use href="#pp" x="338" y="407"/><text class="t" x="342" y="406.7">Energy storage can smooth out changes in<tspan x="342" dy="2.4">the supply from renewable resources</tspan></text></g>
</g>
</svg>
